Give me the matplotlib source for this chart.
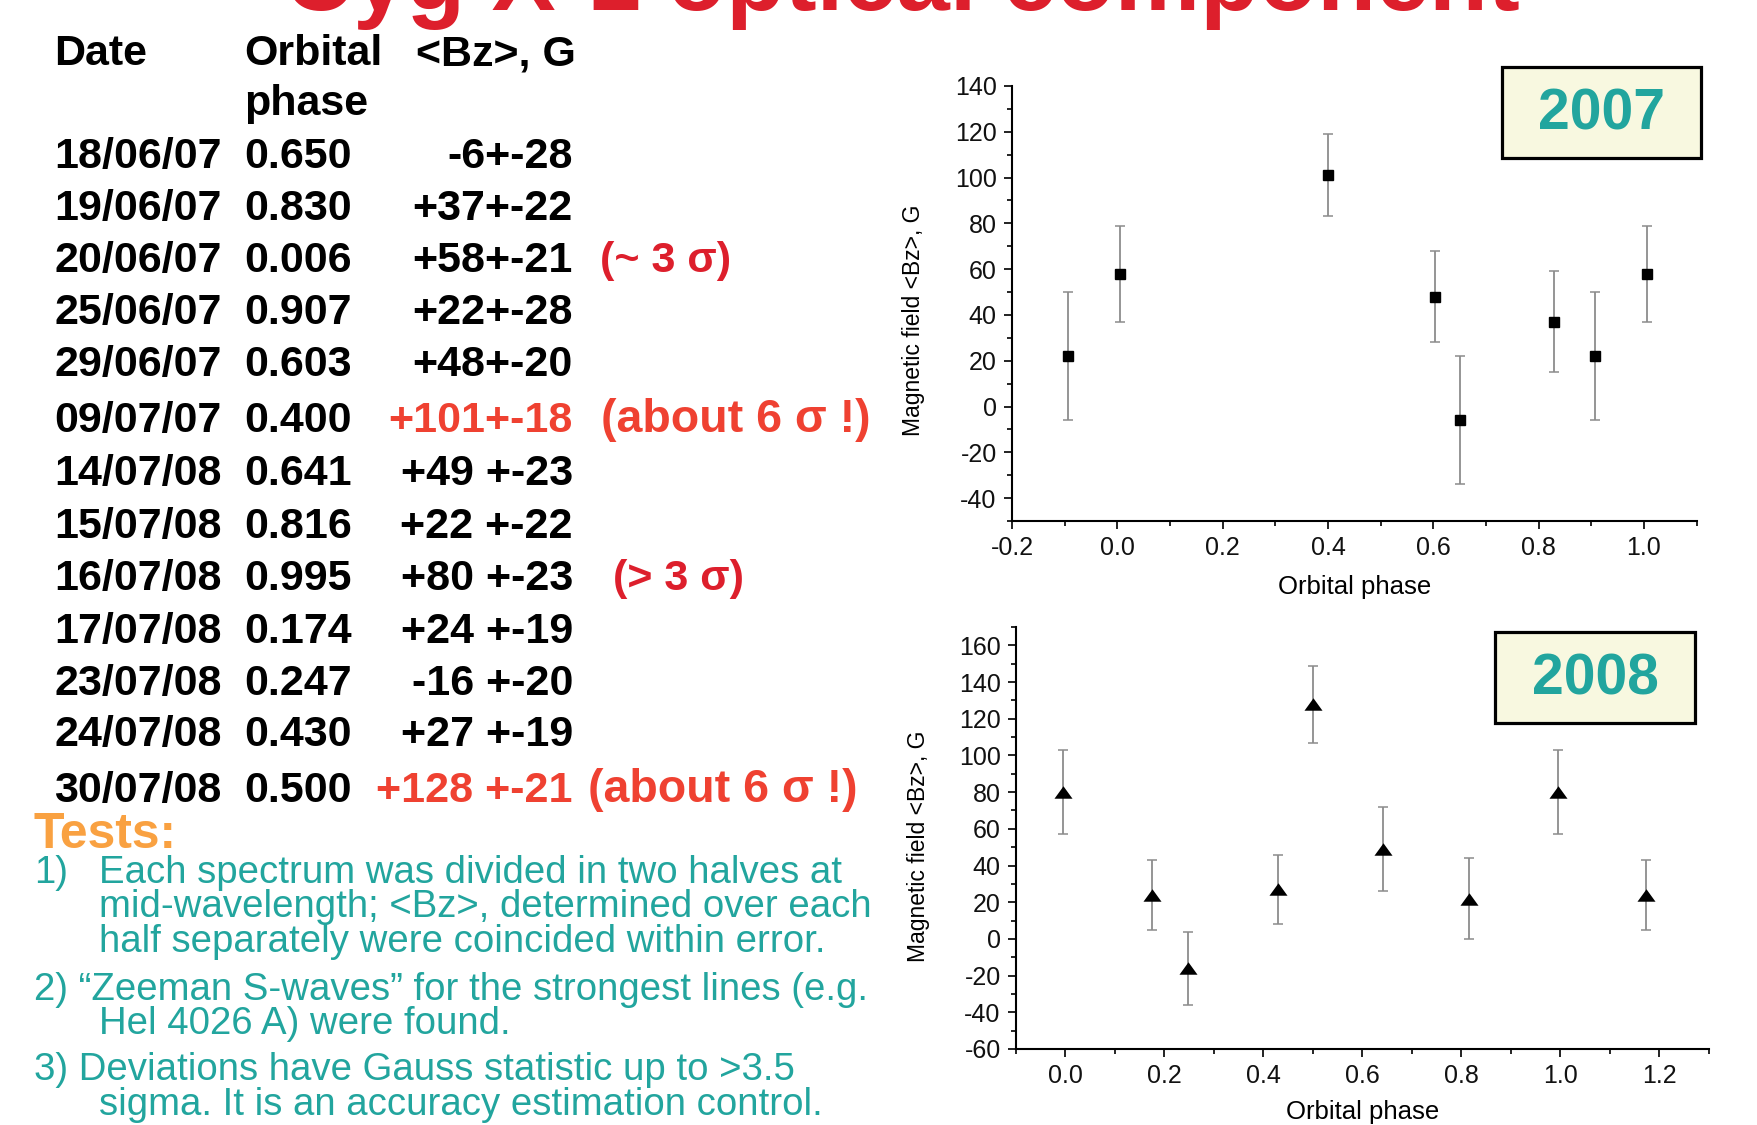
import matplotlib
matplotlib.use('Agg')
import matplotlib.pyplot as plt
from matplotlib.patches import Rectangle
from matplotlib.ticker import MultipleLocator

plt.rcParams['font.family'] = ['Liberation Sans', 'DejaVu Sans']
plt.rcParams['axes.unicode_minus'] = False

# table data
dates = ["18/06/07", "19/06/07", "20/06/07", "25/06/07", "29/06/07", "09/07/07",
         "14/07/08", "15/07/08", "16/07/08", "17/07/08", "23/07/08", "24/07/08", "30/07/08"]
phases = ["0.650", "0.830", "0.006", "0.907", "0.603", "0.400",
          "0.641", "0.816", "0.995", "0.174", "0.247", "0.430", "0.500"]
bz_text = ["-6+-28", "+37+-22", "+58+-21", "+22+-28", "+48+-20", "+101+-18",
           "+49 +-23", "+22 +-22", "+80 +-23", "+24 +-19", "-16 +-20", "+27 +-19", "+128 +-21"]
notes = {2: "(~ 3 σ)", 5: "(about 6 σ !)", 8: "(> 3 σ)", 12: "(about 6 σ !)"}
red_rows = [5, 12]

# 2007 plot
phase07 = [-0.093, 0.006, 0.400, 0.603, 0.650, 0.830, 0.907, 1.006]
bz07 = [22, 58, 101, 48, -6, 37, 22, 58]
err07 = [28, 21, 18, 20, 28, 22, 28, 21]

# 2008 plot
phase08 = [-0.005, 0.174, 0.247, 0.430, 0.500, 0.641, 0.816, 0.995, 1.174]
bz08 = [80, 24, -16, 27, 128, 49, 22, 80, 24]
err08 = [23, 19, 20, 19, 21, 23, 22, 23, 19]

tests = [
    ("1)", ["Each spectrum was divided in two halves at",
            "mid-wavelength; <Bz>, determined over each",
            "half separately were coincided within error."]),
    ("2) \u201cZeeman S-waves\u201d for the strongest lines (e.g.", ["Hel 4026 A) were found."]),
    ("3) Deviations have Gauss statistic up to >3.5", ["sigma. It is an accuracy estimation control."]),
]

W, H = 1757, 1125
fig = plt.figure(figsize=(W / 100, H / 100), dpi=100)


def px(x, y):
    return x / W, 1 - y / H


RED = '#dd1f2c'
ORANGE_RED = '#ef4131'
TEAL = '#22a59e'

# title (cut off at the top of the slide, as in the original)
fig.text(*px(902, 10), "Cyg X-1 optical component", ha='center', va='baseline',
         fontsize=69, fontweight='bold', color=RED)

# table header
fs = 31
fig.text(*px(54, 65), "Date", fontsize=fs, fontweight='bold', va='baseline')
fig.text(*px(244, 65), "Orbital", fontsize=fs, fontweight='bold', va='baseline')
fig.text(*px(244, 115), "phase", fontsize=fs, fontweight='bold', va='baseline')
fig.text(*px(576, 65), "<Bz>, G", fontsize=fs, fontweight='bold', va='baseline', ha='right')

row_y = [168, 220, 272, 324, 376, 432, 485, 538, 590, 643, 695, 746, 802]
for i, y in enumerate(row_y):
    fig.text(*px(54, y), dates[i], fontsize=fs, fontweight='bold', va='baseline')
    fig.text(*px(244, y), phases[i], fontsize=fs, fontweight='bold', va='baseline')
    c = ORANGE_RED if i in red_rows else 'black'
    fig.text(*px(573, y), bz_text[i], fontsize=fs, fontweight='bold', va='baseline',
             ha='right', color=c)
    if i in notes:
        nx = {2: 600, 5: 601, 8: 613, 12: 588}[i]
        nc = ORANGE_RED if i in red_rows else RED
        nfs = 33.5 if i in red_rows else fs
        fig.text(*px(nx, y), notes[i], fontsize=nfs, fontweight='bold', va='baseline', color=nc)

# tests block
tfs = 27.6
fig.text(*px(34, 848), "Tests:", fontsize=36, fontweight='bold', color='#f9a141', va='baseline')
base = [[883, 917, 952], [1000, 1034], [1080, 1115]]
for (head, lines), ys in zip(tests, base):
    fig.text(*px(34, ys[0]), head, fontsize=tfs, color=TEAL, va='baseline')
    if head == "1)":
        for ln, y in zip(lines, ys):
            fig.text(*px(99, y), ln, fontsize=tfs, color=TEAL, va='baseline')
    else:
        fig.text(*px(99, ys[1]), lines[0], fontsize=tfs, color=TEAL, va='baseline')

# plots
tri_marker = [(-1.45, -1), (1.45, -1), (0, 1), (-1.45, -1)]


def style(ax, xlim, ylim):
    ax.set_xlim(*xlim)
    ax.set_ylim(*ylim)
    ax.xaxis.set_major_locator(MultipleLocator(0.2))
    ax.xaxis.set_minor_locator(MultipleLocator(0.1))
    ax.yaxis.set_major_locator(MultipleLocator(20))
    ax.yaxis.set_minor_locator(MultipleLocator(10))
    for s in ['top', 'right']:
        ax.spines[s].set_visible(False)
    for s in ['left', 'bottom']:
        ax.spines[s].set_linewidth(1.5)
    ax.tick_params(which='major', direction='out', length=6, width=1.3,
                   labelsize=18, pad=5, colors='#111111')
    ax.tick_params(which='minor', direction='out', length=3.5, width=1.2)
    ax.set_facecolor('none')


ax1 = fig.add_axes([0.57598, 0.53689, 0.38964, 0.38667])
ax1.errorbar(phase07, bz07, yerr=err07, fmt='none', ecolor='#8c8c8c',
             elinewidth=1.3, capsize=3.4, capthick=1.1)
ax1.plot(phase07, bz07, ls='none', marker='s', ms=7, color='black')
style(ax1, (-0.2, 1.1), (-50, 140))
ax1.set_xlabel("Orbital phase", fontsize=18.5)
ax1.set_ylabel("Magnetic field <Bz>, G", fontsize=16.5)
ax1.xaxis.set_label_coords(0.5, -0.125)
ax1.yaxis.set_label_coords(-0.127, 0.462)

ax2 = fig.add_axes([0.57826, 0.067556, 0.39419, 0.37511])
ax2.errorbar(phase08, bz08, yerr=err08, fmt='none', ecolor='#8c8c8c',
             elinewidth=1.3, capsize=3.4, capthick=1.1)
ax2.plot(phase08, bz08, ls='none', marker=tri_marker, ms=13, color='black', mew=0)
style(ax2, (-0.1, 1.3), (-60, 170))
ax2.set_xlabel("Orbital phase", fontsize=18.5)
ax2.set_ylabel("Magnetic field <Bz>, G", fontsize=16.5)
ax2.xaxis.set_label_coords(0.5, -0.12)
ax2.yaxis.set_label_coords(-0.124, 0.481)

# year boxes
for (x0, y0, x1, y1), label in [((1502, 67, 1701, 158), "2007"), ((1495, 632, 1695, 723), "2008")]:
    fig.patches.append(Rectangle(px(x0, y1), (x1 - x0) / W, (y1 - y0) / H,
                                 transform=fig.transFigure, facecolor='#f8f8e0',
                                 edgecolor='black', linewidth=2.3, zorder=5))
    fig.text(*px((x0 + x1) / 2, (y0 + y1) / 2 + 2), label, ha='center', va='center',
             fontsize=41, fontweight='bold', color=TEAL, zorder=6)

fig.savefig('out.png', dpi=100)
